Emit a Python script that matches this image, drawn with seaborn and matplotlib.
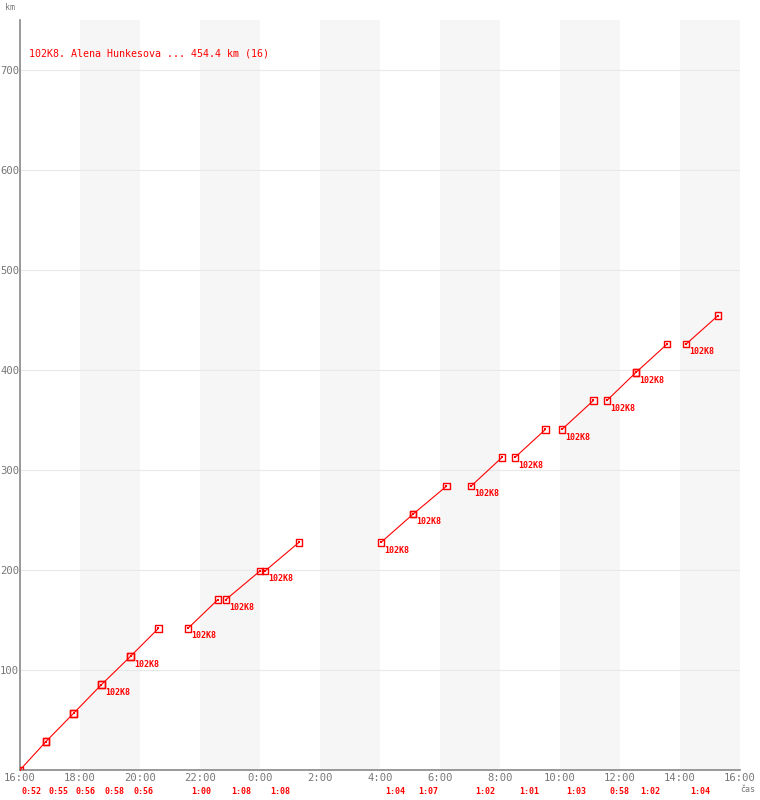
import pandas as pd
import numpy as np
import matplotlib.pyplot as plt
import seaborn as sns

# legs: start/end time in minutes after 16:00, start/end distance in km
leg_start_min = [0, 52, 107, 163, 221, 336, 412, 490, 722, 786, 902, 990, 1084, 1174, 1232, 1332]
leg_end_min = [52, 107, 163, 221, 277, 396, 480, 558, 786, 853, 964, 1051, 1147, 1232, 1294, 1396]
leg_start_km = [0, 28.5, 56.6, 85.4, 113.6, 141.7, 170.5, 199.0, 227.6, 255.8, 283.8, 312.6, 340.6, 369.6, 397.6, 425.8]
leg_end_km = [28.5, 56.6, 85.4, 113.6, 141.7, 170.5, 199.0, 227.6, 255.8, 283.8, 312.6, 340.6, 369.6, 397.6, 425.8, 454.4]
leg_duration = ['0:52', '0:55', '0:56', '0:58', '0:56', '1:00', '1:08', '1:08',
                '1:04', '1:07', '1:02', '1:01', '1:03', '0:58', '1:02', '1:04']
leg_has_label = [False, False, False, True, True, True, True, True,
                 True, True, True, True, True, True, True, True]
point_label = '102K8'
title = '102K8. Alena Hunkesova ... 454.4 km (16)'

x_ticks = list(range(0, 1441, 120))
x_tick_labels = ['16:00', '18:00', '20:00', '22:00', '0:00', '2:00', '4:00',
                 '6:00', '8:00', '10:00', '12:00', '14:00', '16:00']
y_ticks = [100, 200, 300, 400, 500, 600, 700]

# long form table for the lines
rows = []
for i in range(len(leg_start_min)):
    rows.append({'leg': i, 't': leg_start_min[i], 'km': leg_start_km[i]})
    rows.append({'leg': i, 't': leg_end_min[i], 'km': leg_end_km[i]})
df = pd.DataFrame(rows)

sns.set_style('white')
plt.rcParams['font.family'] = ['DejaVu Sans Mono', 'DejaVu Sans']

fig = plt.figure(figsize=(7.6, 8), dpi=100)
ax = fig.add_axes([20 / 760, 30 / 800, 720 / 760, 750 / 800])

# alternating shaded bands, two hours wide
for b in range(120, 1440, 240):
    ax.axvspan(b, b + 120, color='#f6f6f6', lw=0, zorder=0)

for y in y_ticks:
    ax.axhline(y, color='#e8e8e8', lw=0.8, zorder=1)

sns.lineplot(data=df, x='t', y='km', units='leg', estimator=None,
             color='red', lw=0.8, ax=ax, legend=False, zorder=3)
ax.scatter(df['t'], df['km'], marker='s', s=22, facecolors='none',
           edgecolors='red', linewidths=1.0, zorder=4)
ax.scatter(df['t'], df['km'], marker='s', s=1.2, color='red', lw=0, zorder=5)

for i in range(len(leg_start_min)):
    if leg_has_label[i]:
        ax.annotate(point_label, (leg_start_min[i], leg_start_km[i]),
                    xytext=(2.5, -5.5), textcoords='offset points',
                    ha='left', va='center', color='red', fontsize=6,
                    fontweight='bold', zorder=6)
    mid = (leg_start_min[i] + leg_end_min[i]) / 2 - 3
    ax.text(mid, -0.029, leg_duration[i], transform=ax.get_xaxis_transform(),
            ha='center', va='center', color='red', fontsize=6,
            fontweight='bold', clip_on=False)

ax.text(0.013, 0.955, title, transform=ax.transAxes, color='red',
        fontsize=7.2, ha='left', va='center')
fig.text(5 / 760, 1 - 7 / 800, 'km', color='#777777', fontsize=6,
         ha='left', va='center')
fig.text(748 / 760, 1 - 790 / 800, 'čas', color='#777777', fontsize=6,
         ha='center', va='center')

ax.set_xlim(0, 1440)
ax.set_ylim(0, 750)
ax.set_xticks(x_ticks)
ax.set_xticklabels(x_tick_labels)
ax.set_yticks(y_ticks)
ax.set_xlabel('')
ax.set_ylabel('')
ax.tick_params(axis='both', length=0, labelsize=7.6, colors='#777777')
ax.tick_params(axis='x', pad=2.5)
ax.tick_params(axis='y', pad=0.5)

for s in ['top', 'right']:
    ax.spines[s].set_visible(False)
for s in ['left', 'bottom']:
    ax.spines[s].set_color('#888888')
    ax.spines[s].set_linewidth(1.2)

fig.savefig('out.png', dpi=100)
